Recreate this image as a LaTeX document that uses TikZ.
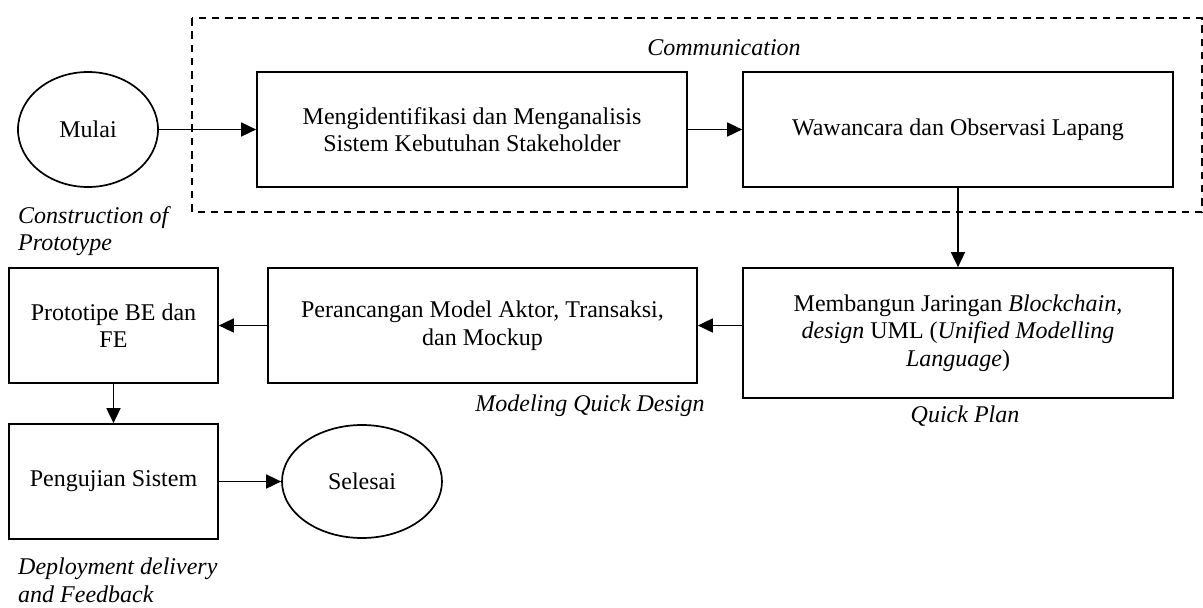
\documentclass[tikz,border=0pt]{standalone}
\usepackage{fontspec}
\setmainfont{Liberation Serif}
\usetikzlibrary{arrows.meta,shapes.geometric}
\begin{document}
\begin{tikzpicture}[x=1pt,y=-1pt,
  txt/.style={font=\fontsize{24}{27.6}\selectfont, inner sep=0pt},
  lbl/.style={txt, font=\fontsize{24}{27.6}\selectfont\itshape},
  stepbox/.style={txt, draw, line width=1.7pt, align=center, inner sep=0pt},
  oval/.style={txt, draw, ellipse, line width=1.7pt, inner sep=0pt},
  conn/.style={line width=1.7pt, -{Triangle[length=15pt,width=14pt]}},
  grp/.style={line width=1.4pt, dash pattern=on 7.5pt off 5.8pt}]
\useasboundingbox (0,0) rectangle (1203,608);
\fill[white] (0,0) rectangle (1203,608);

\draw[grp] (192,18) rectangle (1202,212);
\node[lbl] (comm) at (724,48) {Communication};

\node[oval, minimum width=140pt, minimum height=115pt] (mulai) at (88,129.5) {Mulai};
\node[stepbox, minimum width=430pt, minimum height=115pt] (b1) at (472,129.5)
  {Mengidentifikasi dan Menganalisis\\Sistem Kebutuhan Stakeholder};
\node[stepbox, minimum width=430pt, minimum height=115pt] (b2) at (958,129.5)
  {Wawancara dan Observasi Lapang};
\node[stepbox, minimum width=430pt, minimum height=130pt] (b3) at (958,333)
  {Membangun Jaringan \textit{Blockchain,}\\\textit{design} UML (\textit{Unified Modelling}\\\textit{Language})};
\node[stepbox, minimum width=429pt, minimum height=115pt] (b4) at (482.5,325.5)
  {Perancangan Model Aktor, Transaksi,\\dan Mockup};
\node[stepbox, minimum width=209pt, minimum height=115pt] (b5) at (113.5,325.5)
  {Prototipe BE dan\\FE};
\node[stepbox, minimum width=209pt, minimum height=115pt] (b6) at (113.5,481.5)
  {Pengujian Sistem};
\node[oval, minimum width=160pt, minimum height=113pt] (selesai) at (362,481.5) {Selesai};

\node[lbl, align=left, anchor=west] (lconst) at (18,231) {Construction of\\Prototype};
\node[lbl] (lmodel) at (590,406) {Modeling Quick Design};
\node[lbl] (lplan) at (965,416) {Quick Plan};
\node[lbl, align=left, anchor=west] (ldeploy) at (18,580) {Deployment delivery\\and Feedback};

\draw[conn] (mulai.east) -- (b1.west);
\draw[conn] (b1.east) -- (b2.west);
\draw[conn] (b2.south) -- (b3.north);
\draw[conn] (b3.west |- b4.east) -- (b4.east);
\draw[conn] (b4.west) -- (b5.east);
\draw[conn] (b5.south) -- (b6.north);
\draw[conn] (b6.east) -- (selesai.west);
\end{tikzpicture}
\end{document}
